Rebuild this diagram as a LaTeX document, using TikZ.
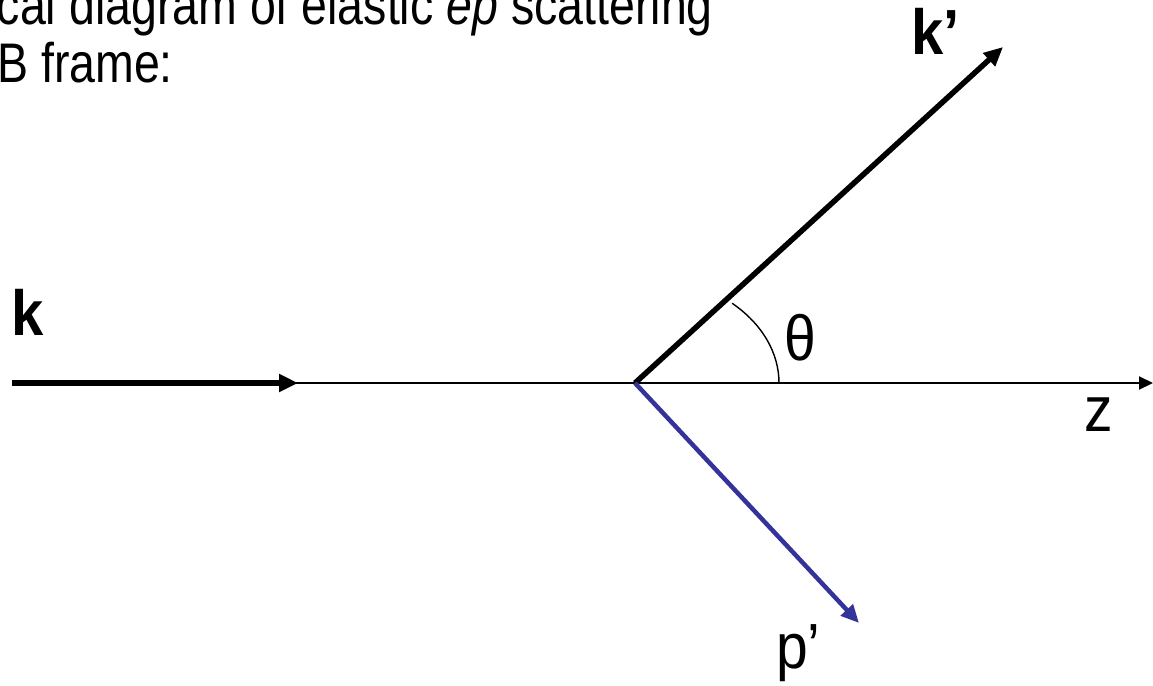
\documentclass[tikz,border=0pt]{standalone}
\usepackage{fontspec}
\setmainfont{Liberation Sans}
\usepackage{xcolor}
\usepackage{tikz}
\usetikzlibrary{positioning,arrows.meta,calc}
\definecolor{vecblue}{RGB}{51,51,153}

\begin{document}
\begin{tikzpicture}[
  x=1pt, y=-1pt,
  >=Triangle,
  txt/.style={inner sep=0pt, font=\fontsize{46.5}{52}\selectfont, yscale=1.2},
  vlabel/.style={inner sep=0pt, font=\fontsize{58}{64}\selectfont\bfseries, yscale=1.1},
  slabel/.style={inner sep=0pt, font=\fontsize{57}{64}\selectfont, yscale=1.12},
  momentum/.style={line width=5.5pt, -{Triangle[length=19pt, width=17pt]}},
  axis/.style={line width=2pt, -{Triangle[length=14pt, width=13pt]}}
]
\useasboundingbox (0,0) rectangle (1153,685);

% points of the scattering picture
\coordinate (kstart) at (12,383);
\coordinate (ktip) at (298,383);
\coordinate (vertex) at (635,383);
\coordinate (ztip) at (1153,383);
\coordinate (kptip) at (1003,47);
\coordinate (pptip) at (859,623);
\coordinate (arcstart) at (779,383);

\node[txt, anchor=base east] (title1) at (713,25) {cal diagram of elastic \textit{ep} scattering};
\node[txt, anchor=base west] (title2) at (-3,82) {B frame:};

\draw[axis] (kstart) -- (ztip);
\draw[momentum] (kstart) -- (ktip);
\draw[momentum] (vertex) -- (kptip);
\draw[line width=4.5pt, vecblue, -{Triangle[length=18pt, width=16pt]}] (vertex) -- (pptip);
\draw[line width=1.4pt] (arcstart) arc[start angle=0, end angle=47.6, x radius=144pt, y radius=108pt];

\node[vlabel, anchor=base west] (k) at (11,335) {k};
\node[vlabel, anchor=base west] (kp) at (911,55) {k’};
\node[slabel] (theta) at (800,338) {θ};
\node[slabel] (z) at (1099,415) {z};
\node[slabel, anchor=base west] (pp) at (776,668) {p’};

\end{tikzpicture}
\end{document}
